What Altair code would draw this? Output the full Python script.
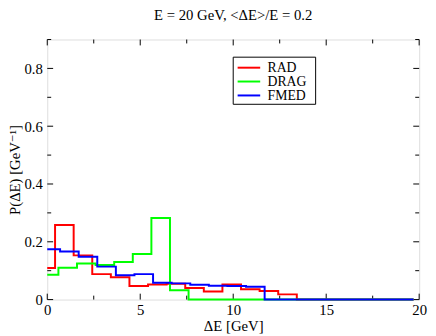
import altair as alt
import pandas as pd

# ---- data ----
series_names = ["RAD", "DRAG", "FMED"]
series_colors = ["#ff0000", "#00ff00", "#0000ff"]

rad_edges = [0, 0.42, 1.42, 2.42, 3.42, 4.42, 5.42, 6.42, 7.42, 8.42, 9.42, 10.42, 11.42, 12.42, 13.42, 19.7]
rad_vals = [0.109, 0.258, 0.153, 0.088, 0.077, 0.047, 0.052, 0.055, 0.040, 0.028, 0.052, 0.036, 0.030, 0.018, 0.0, 0.0]

drag_edges = [0, 0.6, 1.6, 2.6, 3.6, 4.6, 5.6, 6.6, 7.6, 19.7]
drag_vals = [0.086, 0.110, 0.125, 0.120, 0.130, 0.158, 0.282, 0.032, 0.0, 0.0]

fmed_edges = [0, 0.69, 1.69, 2.69, 3.69, 4.69, 5.69, 6.69, 7.69, 8.69, 9.69, 10.69, 11.69, 19.7]
fmed_vals = [0.174, 0.166, 0.148, 0.114, 0.084, 0.088, 0.058, 0.056, 0.051, 0.048, 0.047, 0.044, 0.0, 0.0]

x_labels = [0, 5, 10, 15, 20]
x_ticks = [0, 2.5, 5, 7.5, 10, 12.5, 15, 17.5, 20]
y_labels = [0, 0.2, 0.4, 0.6, 0.8]
y_ticks = [0, 0.1, 0.2, 0.3, 0.4, 0.5, 0.6, 0.7, 0.8, 0.9]

W, H = 379, 265
FONT = "'Liberation Serif', 'Times New Roman', 'DejaVu Serif', serif"

xs = alt.Scale(domain=[0, 20], nice=False, zero=False)
ys = alt.Scale(domain=[0, 0.9], nice=False, zero=False)

series = [
    (rad_edges, rad_vals),
    (drag_edges, drag_vals),
    (fmed_edges, fmed_vals),
]

layers = []

# axes with labels only
base_axes = alt.Chart(pd.DataFrame({"x": [0], "y": [0]})).mark_point(opacity=0).encode(
    x=alt.X("x:Q", scale=xs, title="ΔE [GeV]",
            axis=alt.Axis(values=x_labels, ticks=False, domain=False, grid=False,
                          labelFont=FONT, labelFontSize=15, labelColor="black",
                          labelPadding=3, titleFont=FONT, titleFontSize=15,
                          titleFontWeight="normal", titleColor="black", titlePadding=2,
                          labelFlush=False)),
    y=alt.Y("y:Q", scale=ys, title="P(ΔE) [GeV⁻¹]",
            axis=alt.Axis(values=y_labels, ticks=False, domain=False, grid=False,
                          labelFont=FONT, labelFontSize=15, labelColor="black",
                          labelPadding=5, titleFont=FONT, titleFontSize=15,
                          titleFontWeight="normal", titleColor="black", titlePadding=2,
                          labelFlush=False, format="~g")),
)
layers.append(base_axes)

# inward ticks on all four sides
xt = pd.DataFrame({"t": x_ticks, "major": [v % 5 == 0 for v in x_ticks]})
yt = pd.DataFrame({"t": y_ticks, "major": [round(v * 10) % 2 == 0 for v in y_ticks]})
for major, L in [(True, 6), (False, 4)]:
    xd = xt[xt["major"] == major]
    yd = yt[yt["major"] == major]
    layers.append(alt.Chart(xd).mark_rule(color="black", strokeWidth=1).encode(
        x=alt.X("t:Q", scale=xs), y=alt.value(H), y2=alt.value(H - L)))
    layers.append(alt.Chart(xd).mark_rule(color="black", strokeWidth=1).encode(
        x=alt.X("t:Q", scale=xs), y=alt.value(0), y2=alt.value(L)))
    layers.append(alt.Chart(yd).mark_rule(color="black", strokeWidth=1).encode(
        y=alt.Y("t:Q", scale=ys), x=alt.value(0), x2=alt.value(L)))
    layers.append(alt.Chart(yd).mark_rule(color="black", strokeWidth=1).encode(
        y=alt.Y("t:Q", scale=ys), x=alt.value(W), x2=alt.value(W - L)))

# step histograms
for (edges, vals), name, col in zip(series, series_names, series_colors):
    df = pd.DataFrame({"x": edges, "y": vals, "s": name})
    layers.append(alt.Chart(df).mark_line(interpolate="step-after", strokeWidth=2, color=col).encode(
        x=alt.X("x:Q", scale=xs), y=alt.Y("y:Q", scale=ys)))

# legend box
layers.append(alt.Chart(pd.DataFrame({"a": [0]})).mark_rect(
    fill="white", stroke="black", strokeWidth=1).encode(
    x=alt.value(189.5), x2=alt.value(273.5), y=alt.value(18), y2=alt.value(66)))
row_y = [28.7, 42.8, 57.0]
for name, col, ry in zip(series_names, series_colors, row_y):
    layers.append(alt.Chart(pd.DataFrame({"s": [name]})).mark_rule(color=col, strokeWidth=2).encode(
        x=alt.value(194), x2=alt.value(217), y=alt.value(ry)))
    layers.append(alt.Chart(pd.DataFrame({"s": [name]})).mark_text(
        align="left", baseline="middle", font=FONT, fontSize=14, color="black").encode(
        x=alt.value(224.5), y=alt.value(ry + 0.5), text="s:N"))

chart = alt.layer(*layers).properties(
    width=W, height=H,
    title=alt.TitleParams("E = 20 GeV, <ΔE>/E = 0.2", font=FONT, fontSize=15,
                          fontWeight="normal", color="black", anchor="middle", offset=16),
    autosize=alt.AutoSizeParams(type="none"),
    padding={"left": 40, "top": 29, "right": 9, "bottom": 34},
).configure_view(stroke="black", strokeWidth=1).configure(background="white")

chart.save("out.html", embed_options={"renderer": "svg", "actions": False})
